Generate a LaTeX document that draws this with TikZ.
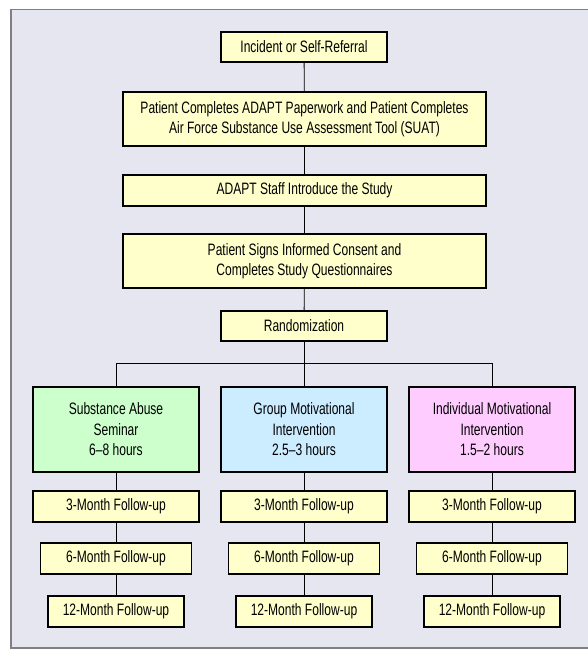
\documentclass[tikz,border=0pt]{standalone}
\usepackage{fontspec}
\setmainfont{Liberation Sans}[FakeStretch=0.73]
\usepackage{xcolor}
\definecolor{panelbg}{HTML}{E6E6F0}
\definecolor{paleyellow}{HTML}{FFFFCC}
\definecolor{palegreen}{HTML}{CCFFCC}
\definecolor{paleblue}{HTML}{CCECFF}
\definecolor{palepink}{HTML}{FFCCFF}
\tikzset{
  box/.style={draw=black, line width=1.4pt, fill=paleyellow, align=center, inner sep=0pt,
    font=\fontsize{16.5}{20.5}\selectfont},
  link/.style={draw=black, line width=0.8pt}
}

\begin{document}
\begin{tikzpicture}[x=1pt, y=-1pt]
    \useasboundingbox (0,0) rectangle (588,656);
    \draw[draw=gray, fill=panelbg, line width=1.2pt] (11,9.5) rectangle (600,648);
    % main column
    \node[box, minimum width=166pt, minimum height=30pt] (incident) at (304,47) {Incident or Self-Referral};
    \node[box, minimum width=363pt, minimum height=54pt] (paper) at (304.5,119) {Patient Completes ADAPT Paperwork and Patient Completes\\Air Force Substance Use Assessment Tool (SUAT)};
    \node[box, minimum width=363pt, minimum height=31pt] (staff) at (304.5,190.5) {ADAPT Staff Introduce the Study};
    \node[box, minimum width=363pt, minimum height=54pt] (consent) at (304.5,261) {Patient Signs Informed Consent and\\Completes Study Questionnaires};
    \node[box, minimum width=166pt, minimum height=30pt] (rand) at (304,326) {Randomization};
    \coordinate (split) at (304,363);
    % arms
    \node[box, fill=palegreen, minimum width=166pt, minimum height=85pt] (seminar) at (116,429.5) {Substance Abuse\\Seminar\\6--8 hours};
    \node[box, fill=paleblue, minimum width=166pt, minimum height=85pt] (group) at (304,429.5) {Group Motivational\\Intervention\\2.5--3 hours};
    \node[box, fill=palepink, minimum width=166pt, minimum height=85pt] (indiv) at (492,429.5) {Individual Motivational\\Intervention\\1.5--2 hours};
    % follow-ups
    \foreach \arm/\x in {seminar/116, group/304, indiv/492} {
        \node[box, minimum width=166pt, minimum height=31pt] (\arm3) at (\x,506.5) {3-Month Follow-up};
        \node[box, minimum width=151pt, minimum height=31pt] (\arm6) at (\x,558.5) {6-Month Follow-up};
        \node[box, minimum width=136pt, minimum height=31pt] (\arm12) at (\x,611.5) {12-Month Follow-up};
        \draw[link] (\arm) -- (\arm3);
        \draw[link] (\arm3) -- (\arm6);
        \draw[link] (\arm6) -- (\arm12);
    }
    \draw[link] (incident) -- (paper);
    \draw[link] (paper) -- (staff);
    \draw[link] (staff) -- (consent);
    \draw[link] (consent) -- (rand);
    \draw[link] (rand) -- (group);
    \draw[link] (seminar.north) -- (seminar.north |- split) -- (indiv.north |- split) -- (indiv.north);
\end{tikzpicture}
\end{document}
